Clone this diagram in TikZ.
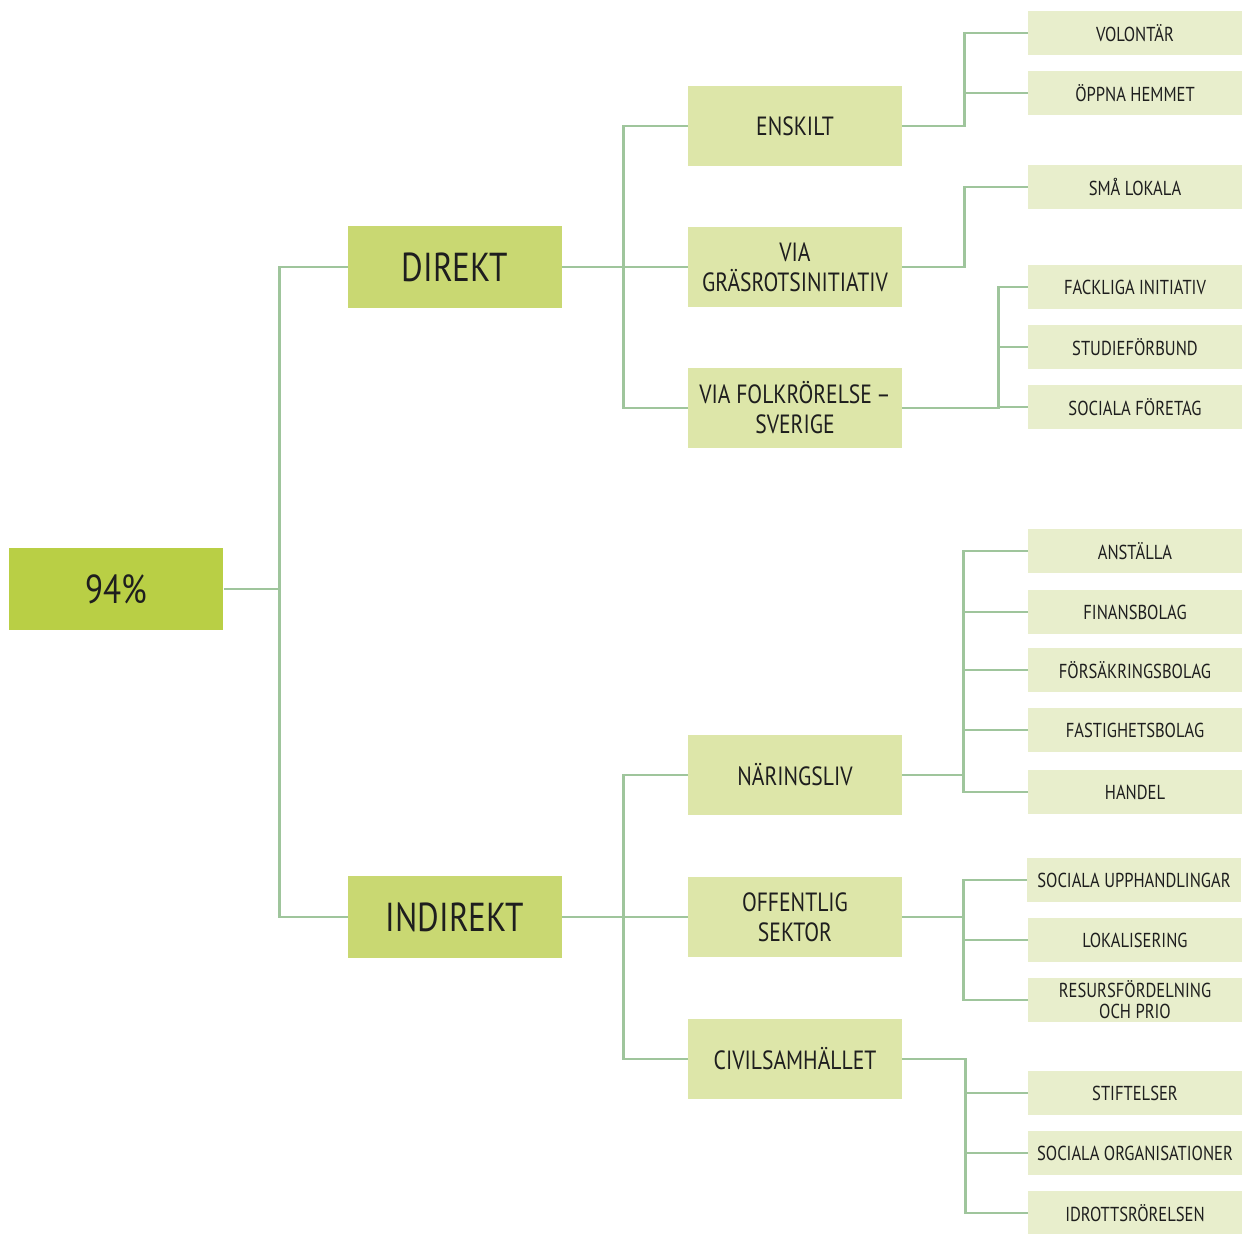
\documentclass[tikz,border=0pt]{standalone}
\usepackage{fontspec}
\setsansfont{PT Sans}[FakeStretch=0.82]
\usepackage{tikz}
\usetikzlibrary{positioning}

\definecolor{rootgreen}{HTML}{B9CF45}
\definecolor{maingreen}{HTML}{C9D872}
\definecolor{midgreen}{HTML}{DDE6A9}
\definecolor{leafgreen}{HTML}{E8EECC}
\definecolor{linkgreen}{HTML}{9FC59C}
\definecolor{inkgray}{HTML}{1E1E1E}

\begin{document}
\begin{tikzpicture}[x=0.02cm, y=-0.02cm, font=\sffamily, text=inkgray]

        % Setup the styles for the boxes and the links
        \tikzset{root box/.style={rectangle, fill=rootgreen,
                                  minimum width=4.3cm, minimum height=1.66cm,
                                  font=\sffamily\fontsize{23}{28}\selectfont},
                 main box/.style={rectangle, fill=maingreen,
                                  minimum width=4.28cm, minimum height=1.64cm,
                                  font=\sffamily\fontsize{23}{28}\selectfont},
                 mid box/.style={rectangle, fill=midgreen, align=center,
                                 minimum width=4.28cm, minimum height=1.6cm,
                                 font=\sffamily\fontsize{15}{17}\selectfont},
                 leaf box/.style={rectangle, fill=leafgreen, align=center,
                                  minimum width=4.28cm, minimum height=0.88cm,
                                  inner sep=1pt,
                                  font=\sffamily\fontsize{11.5}{12}\selectfont},
                 link/.style={draw=linkgreen, line width=1.6pt}}

        \useasboundingbox (0,0) rectangle (1242,1234);

        % Draw the root and the two main boxes
        \node[root box] at (116, 589)   (root)     {94\%};
        \node[main box] at (455, 267)   (direkt)   {DIREKT};
        \node[main box] at (455, 917)   (indirekt) {INDIREKT};

        % Draw the middle boxes
        \node[mid box] at (795, 126)    (enskilt)   {ENSKILT};
        \node[mid box] at (795, 267)    (grasrot)   {VIA\\GRÄSROTSINITIATIV};
        \node[mid box] at (795, 408)    (folk)      {VIA FOLKRÖRELSE\,--\\SVERIGE};
        \node[mid box] at (795, 775)    (naring)    {NÄRINGSLIV};
        \node[mid box] at (795, 917)    (offentlig) {OFFENTLIG\\SEKTOR};
        \node[mid box] at (795, 1059)   (civil)     {CIVILSAMHÄLLET};

        % Draw the leaves
        \node[leaf box] at (1135, 33)   (volontar)    {VOLONTÄR};
        \node[leaf box] at (1135, 93)   (oppna)       {ÖPPNA HEMMET};
        \node[leaf box] at (1135, 187)  (sma)         {SMÅ LOKALA};
        \node[leaf box] at (1135, 287)  (fackliga)    {FACKLIGA INITIATIV};
        \node[leaf box] at (1135, 347)  (studie)      {STUDIEFÖRBUND};
        \node[leaf box] at (1135, 407)  (socforetag)  {SOCIALA FÖRETAG};
        \node[leaf box] at (1135, 551)  (anstalla)    {ANSTÄLLA};
        \node[leaf box] at (1135, 612)  (finans)      {FINANSBOLAG};
        \node[leaf box] at (1135, 670)  (forsakring)  {FÖRSÄKRINGSBOLAG};
        \node[leaf box] at (1135, 730)  (fastighet)   {FASTIGHETSBOLAG};
        \node[leaf box] at (1135, 792)  (handel)      {HANDEL};
        \node[leaf box] at (1134, 880)  (upphandling) {SOCIALA UPPHANDLINGAR};
        \node[leaf box] at (1135, 940)  (lokal)       {LOKALISERING};
        \node[leaf box] at (1135, 1000) (resurs)      {RESURSFÖRDELNING\\OCH PRIO};
        \node[leaf box] at (1135, 1093) (stiftelser)  {STIFTELSER};
        \node[leaf box] at (1135, 1153) (socorg)      {SOCIALA ORGANISATIONER};
        \node[leaf box] at (1135, 1213) (idrott)      {IDROTTSRÖRELSEN};

        % Connect the boxes with elbow links
        \foreach \c in {direkt, indirekt}
            \draw[link] (root.east) -- ++(56,0) |- (\c.west);
        \foreach \c in {enskilt, grasrot, folk}
            \draw[link] (direkt.east) -- ++(61,0) |- (\c.west);
        \foreach \c in {naring, offentlig, civil}
            \draw[link] (indirekt.east) -- ++(61,0) |- (\c.west);
        \foreach \c in {volontar, oppna}
            \draw[link] (enskilt.east) -- ++(62,0) |- (\c.west);
        \draw[link] (grasrot.east) -- ++(62,0) |- (sma.west);
        \foreach \c in {fackliga, studie, socforetag}
            \draw[link] (folk.east) -- ++(96,0) |- (\c.west);
        \foreach \c in {anstalla, finans, forsakring, fastighet, handel}
            \draw[link] (naring.east) -- ++(61,0) |- (\c.west);
        \foreach \c in {upphandling, lokal, resurs}
            \draw[link] (offentlig.east) -- ++(61,0) |- (\c.west);
        \foreach \c in {stiftelser, socorg, idrott}
            \draw[link] (civil.east) -- ++(63,0) |- (\c.west);
\end{tikzpicture}
\end{document}
